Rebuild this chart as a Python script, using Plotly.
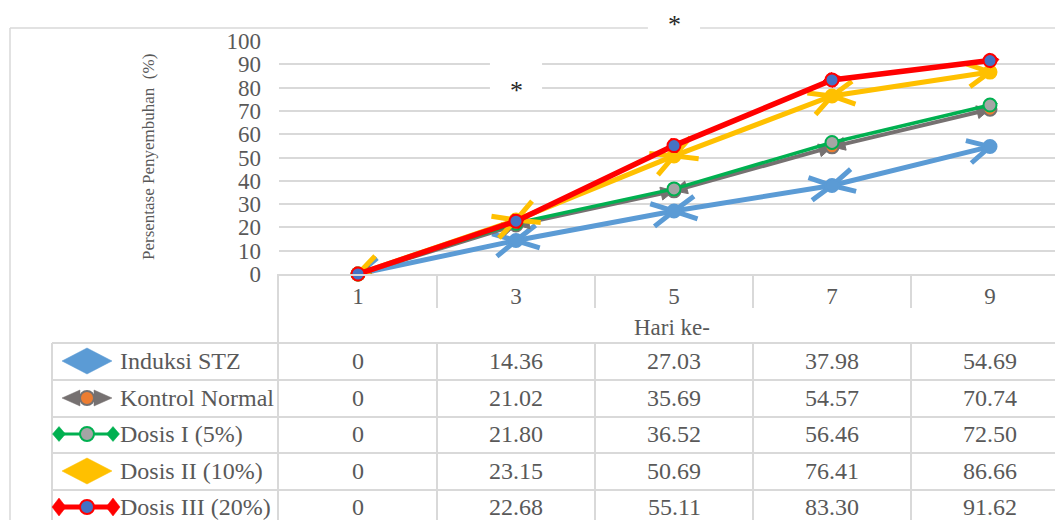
import math
import plotly.graph_objects as go

# ---------------- data ----------------
days = [1, 3, 5, 7, 9]
day_labels = ["1", "3", "5", "7", "9"]
series_names = ["Induksi STZ", "Kontrol Normal", "Dosis I (5%)", "Dosis II (10%)", "Dosis III (20%)"]
induksi_stz = [0, 14.36, 27.03, 37.98, 54.69]
kontrol_normal = [0, 21.02, 35.69, 54.57, 70.74]
dosis_1 = [0, 21.80, 36.52, 56.46, 72.50]
dosis_2 = [0, 23.15, 50.69, 76.41, 86.66]
dosis_3 = [0, 22.68, 55.11, 83.30, 91.62]
series_values = [induksi_stz, kontrol_normal, dosis_1, dosis_2, dosis_3]
y_ticks = [0, 10, 20, 30, 40, 50, 60, 70, 80, 90, 100]
x_title = "Hari ke-"
y_title = "Persentase Penyembuhan\u00a0 (%)"
star_days = [5, 3]
star_text = "*"

# ---------------- styles ----------------
line_colors = ["#5B9BD5", "#767171", "#00B050", "#FFC000", "#FF0000"]
line_widths = [5, 4, 3.5, 5, 5.5]
marker_fill = ["#5B9BD5", "#ED7D31", "#A5A5A5", "#FFC000", "#4472C4"]
marker_border = ["#5B9BD5", "#767171", "#00B050", "#FFC000", "#FF0000"]
arrow_kind = ["open", "triangle", "diamond", "open", "diamond"]
FONT = "Liberation Serif"
TXT = "#595959"
GRID = "#D9D9D9"

OFF = 8                      # page body margin
W, H = 1063 - OFF, 520 - OFF
ML, MT, MB, MR = 279 - OFF, 41 - OFF, 246, 0
PW, PH = W - ML - MR, H - MT - MB
XMIN = 0.0
XMAX = XMIN + PW / 79.0
YMIN, YMAX = 0, 100
KX = PW / (XMAX - XMIN)
KY = PH / (YMAX - YMIN)


def fx(px):
    return (px - OFF - ML) / PW


def fy(py):
    return (H - MB - (py - OFF)) / PH


def unit(tip, origin):
    dxp = (tip[0] - origin[0]) * KX
    dyp = (tip[1] - origin[1]) * KY
    n = math.hypot(dxp, dyp)
    return dxp / n, dyp / n


def off(p, dxp, dyp):
    return (p[0] + dxp / KX, p[1] + dyp / KY)


def segment_ends(xs, ys):
    for i in range(len(xs) - 1):
        a = (xs[i], ys[i])
        b = (xs[i + 1], ys[i + 1])
        yield b, a
        yield a, b


def arrow_trace(xs, ys, kind, color, width):
    px, py = [], []
    for tip, origin in segment_ends(xs, ys):
        ux, uy = unit(tip, origin)
        nx, ny = -uy, ux
        if kind == "open":
            L, Hh = 22, 11.5
            left = off(tip, -ux * L + nx * Hh, -uy * L + ny * Hh)
            right = off(tip, -ux * L - nx * Hh, -uy * L - ny * Hh)
            pts = [left, tip, right]
        elif kind == "triangle":
            L, Hh = 13, 6.5
            left = off(tip, -ux * L + nx * Hh, -uy * L + ny * Hh)
            right = off(tip, -ux * L - nx * Hh, -uy * L - ny * Hh)
            pts = [tip, left, right, tip]
        else:
            L, Hh = (9, 7.5) if width > 4 else (7.5, 6.5)
            front = off(tip, ux * L, uy * L)
            back = off(tip, -ux * L, -uy * L)
            s1 = off(tip, nx * Hh, ny * Hh)
            s2 = off(tip, -nx * Hh, -ny * Hh)
            pts = [front, s1, back, s2, front]
        for p in pts:
            px.append(p[0])
            py.append(p[1])
        px.append(None)
        py.append(None)
    if kind == "open":
        return go.Scatter(x=px, y=py, mode="lines", hoverinfo="skip", showlegend=False,
                          line=dict(color=color, width=width))
    return go.Scatter(x=px, y=py, mode="lines", fill="toself", fillcolor=color,
                      hoverinfo="skip", showlegend=False, line=dict(color=color, width=1))


fig = go.Figure()
for i, vals in enumerate(series_values):
    fig.add_trace(go.Scatter(x=days, y=vals, mode="lines", name=series_names[i], showlegend=False,
                             line=dict(color=line_colors[i], width=line_widths[i])))
    fig.add_trace(arrow_trace(days, vals, arrow_kind[i], line_colors[i], line_widths[i]))
    fig.add_trace(go.Scatter(x=days, y=vals, mode="markers", showlegend=False, cliponaxis=False,
                             hoverinfo="skip",
                             marker=dict(symbol="circle", size=13, color=marker_fill[i],
                                         line=dict(color=marker_border[i], width=2))))

shapes = []
annotations = []


def hline(px0, px1, py, color=GRID, w=1.5):
    shapes.append(dict(type="line", xref="paper", yref="paper", x0=fx(px0), x1=fx(px1),
                       y0=fy(py), y1=fy(py), line=dict(color=color, width=w)))


def vline(px, py0, py1, color=GRID, w=1.5):
    shapes.append(dict(type="line", xref="paper", yref="paper", x0=fx(px), x1=fx(px),
                       y0=fy(py0), y1=fy(py1), line=dict(color=color, width=w)))


# chart frame
hline(10, 1070, 28)
vline(10, 28, 530)

# data table grid
row_lines = [343, 380, 417, 453, 490]
for r in row_lines:
    hline(52, 1070, r, w=2)
vline(52, 343, 530, w=2)
vline(278, 274, 530, w=2)
for k in range(1, len(days)):
    bx = (days[k - 1] + days[k]) / 2.0
    for (a, b) in [(274, 308), (343, 530)]:
        shapes.append(dict(type="line", xref="x", yref="paper", x0=bx, x1=bx, y0=fy(a), y1=fy(b),
                           line=dict(color=GRID, width=2)))

# white boxes behind stars
star_py = [25, 90]
star_box = [(8, 48), (54, 100)]
for d, (a, b) in zip(star_days, star_box):
    shapes.append(dict(type="rect", xref="x", yref="paper", x0=d - 0.33, x1=d + 0.33,
                       y0=fy(b), y1=fy(a), fillcolor="white", line=dict(width=0), layer="above"))
for d, p in zip(star_days, star_py):
    annotations.append(dict(x=d, y=fy(p), xref="x", yref="paper", text=star_text, showarrow=False,
                            xanchor="center", yanchor="middle",
                            font=dict(family=FONT, size=26, color="#262626")))

# table rows
row_centers = [361, 398, 434, 471, 507]
for i, vals in enumerate(series_values):
    cy = row_centers[i]
    annotations.append(dict(x=fx(118), y=fy(cy), xref="paper", yref="paper", text=series_names[i],
                            showarrow=False, xanchor="left", yanchor="middle",
                            font=dict(family=FONT, size=24, color=TXT)))
    for d, v in zip(days, vals):
        t = "0" if v == 0 else f"{v:.2f}"
        annotations.append(dict(x=d, y=fy(cy), xref="x", yref="paper", text=t, showarrow=False,
                                xanchor="center", yanchor="middle",
                                font=dict(family=FONT, size=24, color=TXT)))


def path(points):
    return "M" + " L".join(f"{fx(a):.5f},{fy(b):.5f}" for a, b in points) + " Z"


def poly(points, color):
    shapes.append(dict(type="path", xref="paper", yref="paper", path=path(points),
                       fillcolor=color, line=dict(color=color, width=0.5)))


def circ(cx, cy, r, fill, border):
    shapes.append(dict(type="circle", xref="paper", yref="paper", x0=fx(cx - r), x1=fx(cx + r),
                       y0=fy(cy + r), y1=fy(cy - r), fillcolor=fill, line=dict(color=border, width=2)))


# legend keys
for i in range(len(series_values)):
    cy = row_centers[i]
    c = line_colors[i]
    if arrow_kind[i] == "open":
        poly([(62, cy), (87, cy - 13), (112, cy), (87, cy + 13)], c)
    elif arrow_kind[i] == "triangle":
        hline(70, 104, cy, color=c, w=2.5)
        poly([(62, cy), (80, cy - 8), (80, cy + 8)], c)
        poly([(112, cy), (94, cy - 8), (94, cy + 8)], c)
        circ(87, cy, 7, marker_fill[i], marker_border[i])
    else:
        big = line_widths[i] > 4
        hw, hh = (7, 9) if big else (6.5, 7.5)
        hline(58, 114, cy, color=c, w=5 if big else 3)
        for cx in (59, 113):
            poly([(cx - hw, cy), (cx, cy - hh), (cx + hw, cy), (cx, cy + hh)], c)
        circ(87, cy, 7, marker_fill[i], marker_border[i])

# axis titles
annotations.append(dict(x=fx(148), y=fy(157), xref="paper", yref="paper", text=y_title, textangle=-90,
                        showarrow=False, xanchor="center", yanchor="middle",
                        font=dict(family=FONT, size=17, color=TXT)))
annotations.append(dict(x=fx(672), y=fy(327), xref="paper", yref="paper", text=x_title,
                        showarrow=False, xanchor="center", yanchor="middle",
                        font=dict(family=FONT, size=23, color=TXT)))

fig.update_layout(
    width=W, height=H,
    margin=dict(l=ML, r=MR, t=MT, b=MB, pad=0),
    paper_bgcolor="white", plot_bgcolor="white",
    showlegend=False,
    font=dict(family=FONT, color=TXT, size=23),
    xaxis=dict(range=[XMIN, XMAX], tickmode="array", tickvals=days, ticktext=day_labels,
               showgrid=False, zeroline=False, showline=True, linecolor=GRID, linewidth=2,
               ticks="", ticklabelstandoff=0, tickfont=dict(family=FONT, size=23, color=TXT),
               fixedrange=True),
    yaxis=dict(range=[YMIN, YMAX], tickmode="array", tickvals=y_ticks,
               showgrid=True, gridcolor=GRID, gridwidth=1.5, zeroline=False, showline=False,
               ticks="", ticklabelstandoff=17, tickfont=dict(family=FONT, size=23, color=TXT),
               fixedrange=True),
    shapes=shapes,
    annotations=annotations,
)

fig.write_html("out.html", config={"displayModeBar": False})
